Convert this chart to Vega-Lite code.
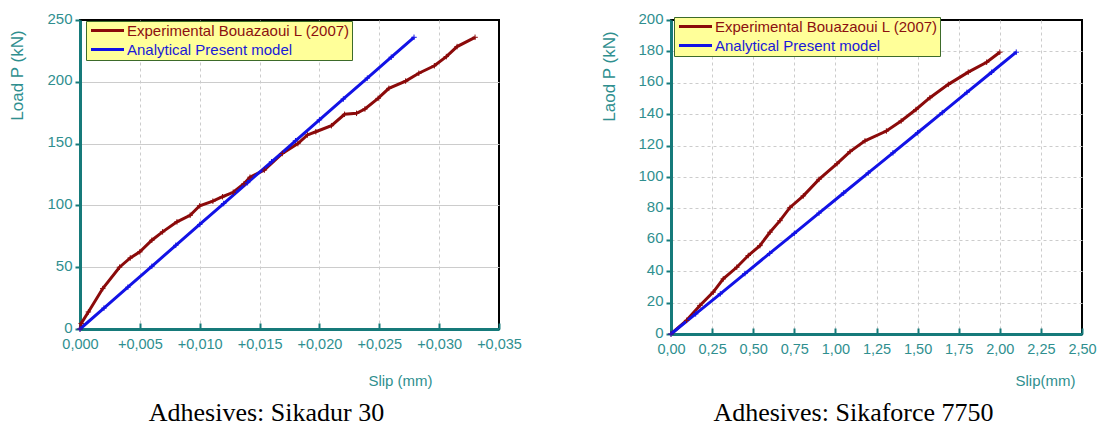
{
  "$schema": "https://vega.github.io/schema/vega-lite/v6.json",
  "padding": {"left": 7, "top": 10, "right": 4, "bottom": 4},
  "background": "white",
  "bounds": "flush",
  "spacing": 172,
  "datasets": {
    "sikadur": [
      {"slip": 0.0, "load": 0.0, "series": "Experimental Bouazaoui L (2007)"},
      {"slip": 0.0001, "load": 4.5, "series": "Experimental Bouazaoui L (2007)"},
      {"slip": 0.0007, "load": 13.8, "series": "Experimental Bouazaoui L (2007)"},
      {"slip": 0.0019, "load": 32.7, "series": "Experimental Bouazaoui L (2007)"},
      {"slip": 0.0033, "load": 50.0, "series": "Experimental Bouazaoui L (2007)"},
      {"slip": 0.0042, "load": 57.5, "series": "Experimental Bouazaoui L (2007)"},
      {"slip": 0.005, "load": 62.4, "series": "Experimental Bouazaoui L (2007)"},
      {"slip": 0.006, "load": 71.8, "series": "Experimental Bouazaoui L (2007)"},
      {"slip": 0.0069, "load": 78.6, "series": "Experimental Bouazaoui L (2007)"},
      {"slip": 0.0081, "load": 86.7, "series": "Experimental Bouazaoui L (2007)"},
      {"slip": 0.0092, "load": 92.0, "series": "Experimental Bouazaoui L (2007)"},
      {"slip": 0.0100, "load": 99.7, "series": "Experimental Bouazaoui L (2007)"},
      {"slip": 0.0111, "load": 103.4, "series": "Experimental Bouazaoui L (2007)"},
      {"slip": 0.0119, "load": 107.0, "series": "Experimental Bouazaoui L (2007)"},
      {"slip": 0.0128, "load": 110.6, "series": "Experimental Bouazaoui L (2007)"},
      {"slip": 0.0137, "load": 117.5, "series": "Experimental Bouazaoui L (2007)"},
      {"slip": 0.0142, "load": 122.8, "series": "Experimental Bouazaoui L (2007)"},
      {"slip": 0.0154, "load": 128.6, "series": "Experimental Bouazaoui L (2007)"},
      {"slip": 0.0169, "load": 142.0, "series": "Experimental Bouazaoui L (2007)"},
      {"slip": 0.0182, "load": 150.0, "series": "Experimental Bouazaoui L (2007)"},
      {"slip": 0.0190, "load": 157.0, "series": "Experimental Bouazaoui L (2007)"},
      {"slip": 0.0197, "load": 159.6, "series": "Experimental Bouazaoui L (2007)"},
      {"slip": 0.0210, "load": 164.5, "series": "Experimental Bouazaoui L (2007)"},
      {"slip": 0.0221, "load": 173.7, "series": "Experimental Bouazaoui L (2007)"},
      {"slip": 0.0231, "load": 174.5, "series": "Experimental Bouazaoui L (2007)"},
      {"slip": 0.0238, "load": 178.0, "series": "Experimental Bouazaoui L (2007)"},
      {"slip": 0.0249, "load": 186.6, "series": "Experimental Bouazaoui L (2007)"},
      {"slip": 0.0258, "load": 194.7, "series": "Experimental Bouazaoui L (2007)"},
      {"slip": 0.0272, "load": 200.6, "series": "Experimental Bouazaoui L (2007)"},
      {"slip": 0.0283, "load": 206.9, "series": "Experimental Bouazaoui L (2007)"},
      {"slip": 0.0296, "load": 213.0, "series": "Experimental Bouazaoui L (2007)"},
      {"slip": 0.0306, "load": 220.4, "series": "Experimental Bouazaoui L (2007)"},
      {"slip": 0.0315, "load": 228.5, "series": "Experimental Bouazaoui L (2007)"},
      {"slip": 0.0330, "load": 236.0, "series": "Experimental Bouazaoui L (2007)"},
      {"slip": 0.0, "load": 0.0, "series": "Analytical Present model"},
      {"slip": 0.002, "load": 16.9, "series": "Analytical Present model"},
      {"slip": 0.004, "load": 33.8, "series": "Analytical Present model"},
      {"slip": 0.006, "load": 50.7, "series": "Analytical Present model"},
      {"slip": 0.008, "load": 67.7, "series": "Analytical Present model"},
      {"slip": 0.010, "load": 84.6, "series": "Analytical Present model"},
      {"slip": 0.012, "load": 101.5, "series": "Analytical Present model"},
      {"slip": 0.014, "load": 118.4, "series": "Analytical Present model"},
      {"slip": 0.016, "load": 135.3, "series": "Analytical Present model"},
      {"slip": 0.018, "load": 152.3, "series": "Analytical Present model"},
      {"slip": 0.020, "load": 169.2, "series": "Analytical Present model"},
      {"slip": 0.022, "load": 186.1, "series": "Analytical Present model"},
      {"slip": 0.024, "load": 203.0, "series": "Analytical Present model"},
      {"slip": 0.026, "load": 219.9, "series": "Analytical Present model"},
      {"slip": 0.0279, "load": 236.0, "series": "Analytical Present model"}
    ],
    "sikaforce": [
      {"slip": 0.0, "load": 0.0, "series": "Experimental Bouazaoui L (2007)"},
      {"slip": 0.095, "load": 8.7, "series": "Experimental Bouazaoui L (2007)"},
      {"slip": 0.176, "load": 18.2, "series": "Experimental Bouazaoui L (2007)"},
      {"slip": 0.257, "load": 26.7, "series": "Experimental Bouazaoui L (2007)"},
      {"slip": 0.318, "load": 35.1, "series": "Experimental Bouazaoui L (2007)"},
      {"slip": 0.40, "load": 42.5, "series": "Experimental Bouazaoui L (2007)"},
      {"slip": 0.47, "load": 50.0, "series": "Experimental Bouazaoui L (2007)"},
      {"slip": 0.541, "load": 56.3, "series": "Experimental Bouazaoui L (2007)"},
      {"slip": 0.602, "load": 64.8, "series": "Experimental Bouazaoui L (2007)"},
      {"slip": 0.663, "load": 72.2, "series": "Experimental Bouazaoui L (2007)"},
      {"slip": 0.724, "load": 80.6, "series": "Experimental Bouazaoui L (2007)"},
      {"slip": 0.805, "load": 88.0, "series": "Experimental Bouazaoui L (2007)"},
      {"slip": 0.90, "load": 98.5, "series": "Experimental Bouazaoui L (2007)"},
      {"slip": 1.01, "load": 108.5, "series": "Experimental Bouazaoui L (2007)"},
      {"slip": 1.089, "load": 116.2, "series": "Experimental Bouazaoui L (2007)"},
      {"slip": 1.18, "load": 123.0, "series": "Experimental Bouazaoui L (2007)"},
      {"slip": 1.31, "load": 129.3, "series": "Experimental Bouazaoui L (2007)"},
      {"slip": 1.40, "load": 135.7, "series": "Experimental Bouazaoui L (2007)"},
      {"slip": 1.49, "load": 143.0, "series": "Experimental Bouazaoui L (2007)"},
      {"slip": 1.575, "load": 150.5, "series": "Experimental Bouazaoui L (2007)"},
      {"slip": 1.687, "load": 159.0, "series": "Experimental Bouazaoui L (2007)"},
      {"slip": 1.808, "load": 166.8, "series": "Experimental Bouazaoui L (2007)"},
      {"slip": 1.92, "load": 173.1, "series": "Experimental Bouazaoui L (2007)"},
      {"slip": 2.0, "load": 179.5, "series": "Experimental Bouazaoui L (2007)"},
      {"slip": 0.0, "load": 0.0, "series": "Analytical Present model"},
      {"slip": 0.15, "load": 12.8, "series": "Analytical Present model"},
      {"slip": 0.30, "load": 25.6, "series": "Analytical Present model"},
      {"slip": 0.45, "load": 38.5, "series": "Analytical Present model"},
      {"slip": 0.60, "load": 51.3, "series": "Analytical Present model"},
      {"slip": 0.75, "load": 64.1, "series": "Analytical Present model"},
      {"slip": 0.90, "load": 77.0, "series": "Analytical Present model"},
      {"slip": 1.05, "load": 89.8, "series": "Analytical Present model"},
      {"slip": 1.20, "load": 102.6, "series": "Analytical Present model"},
      {"slip": 1.35, "load": 115.4, "series": "Analytical Present model"},
      {"slip": 1.50, "load": 128.2, "series": "Analytical Present model"},
      {"slip": 1.65, "load": 141.0, "series": "Analytical Present model"},
      {"slip": 1.80, "load": 153.9, "series": "Analytical Present model"},
      {"slip": 1.95, "load": 166.7, "series": "Analytical Present model"},
      {"slip": 2.10, "load": 179.5, "series": "Analytical Present model"}
    ]
  },
  "hconcat": [
    {
      "width": 419,
      "height": 309,
      "data": {"name": "sikadur"},
      "title": {"text": "Adhesives: Sikadur 30", "orient": "bottom", "anchor": "middle", "dx": -23, "offset": 12},
      "mark": {"type": "line", "strokeWidth": 3, "point": {"shape": "M0,-1V1M-1,0H1", "filled": false, "size": 30, "strokeWidth": 1}},
      "encoding": {
        "x": {"field": "slip", "type": "quantitative", "sort": null,
          "scale": {"domain": [0, 0.035], "nice": false},
          "axis": {"title": "Slip (mm)", "values": [0, 0.005, 0.01, 0.015, 0.02, 0.025, 0.03, 0.035],
            "labelExpr": "datum.value == 0 ? '0,000' : '+' + replace(format(datum.value, '.3f'), '.', ',')",
            "gridDash": [3, 3], "gridOpacity": {"condition": {"test": "datum.value >= 0.035 || datum.value <= 0", "value": 0}, "value": 1},
            "titleX": 320, "titleY": 51}},
        "y": {"field": "load", "type": "quantitative",
          "scale": {"domain": [0, 250], "nice": false},
          "axis": {"title": "Load P (kN)", "values": [0, 50, 100, 150, 200, 250], "gridDash": [],
            "gridOpacity": {"condition": {"test": "datum.value >= 250 || datum.value <= 0", "value": 0}, "value": 1},
            "titleX": -63, "titleY": 55}},
        "color": {"field": "series", "type": "nominal",
          "scale": {"domain": ["Experimental Bouazaoui L (2007)", "Analytical Present model"], "range": ["#8b0a0a", "#1212e6"]},
          "legend": {"orient": "none", "legendX": 6, "legendY": 1,
            "encode": {"labels": {"update": {"fill": {"signal": "datum.label == 'Analytical Present model' ? '#1a1ad8' : '#8b1010'"}}}}}},
        "order": {"field": "slip"}
      }
    },
    {
      "width": 411,
      "height": 314,
      "data": {"name": "sikaforce"},
      "title": {"text": "Adhesives: Sikaforce 7750", "orient": "bottom", "anchor": "middle", "dx": -23, "offset": 12},
      "mark": {"type": "line", "strokeWidth": 3, "point": {"shape": "M0,-1V1M-1,0H1", "filled": false, "size": 30, "strokeWidth": 1}},
      "encoding": {
        "x": {"field": "slip", "type": "quantitative", "sort": null,
          "scale": {"domain": [0, 2.5], "nice": false},
          "axis": {"title": "Slip(mm)", "values": [0, 0.25, 0.5, 0.75, 1, 1.25, 1.5, 1.75, 2, 2.25, 2.5],
            "labelExpr": "replace(format(datum.value, '.2f'), '.', ',')",
            "gridDash": [3, 3], "gridOpacity": {"condition": {"test": "datum.value >= 2.5 || datum.value <= 0", "value": 0}, "value": 1},
            "titleX": 374, "titleY": 46}},
        "y": {"field": "load", "type": "quantitative",
          "scale": {"domain": [0, 200], "nice": false},
          "axis": {"title": "Laod P (kN)", "values": [0, 20, 40, 60, 80, 100, 120, 140, 160, 180, 200], "gridDash": [3, 3],
            "gridOpacity": {"condition": {"test": "datum.value >= 200 || datum.value <= 0", "value": 0}, "value": 1},
            "titleX": -62, "titleY": 56}},
        "color": {"field": "series", "type": "nominal",
          "scale": {"domain": ["Experimental Bouazaoui L (2007)", "Analytical Present model"], "range": ["#8b0a0a", "#1212e6"]},
          "legend": {"orient": "none", "legendX": 3, "legendY": -3,
            "encode": {"labels": {"update": {"fill": {"signal": "datum.label == 'Analytical Present model' ? '#1a1ad8' : '#8b1010'"}}}}}},
        "order": {"field": "slip"}
      }
    }
  ],
  "resolve": {"scale": {"color": "independent", "x": "independent", "y": "independent"}},
  "config": {
    "font": "Liberation Sans",
    "view": {"stroke": "black", "strokeWidth": 2},
    "title": {"font": "Liberation Serif", "fontSize": 26, "fontWeight": "normal", "color": "black"},
    "axis": {
      "labelFont": "Liberation Sans", "labelFontSize": 14.5, "labelColor": "#2f8f8f",
      "titleFont": "Liberation Sans", "titleFontSize": 15, "titleFontWeight": "normal", "titleColor": "#2f8f8f",
      "titleAlign": "center", "titleBaseline": "middle",
      "domainColor": "#167a7a", "domainWidth": 3,
      "tickColor": "#167a7a", "tickWidth": 2,
      "gridColor": "#cccccc", "gridWidth": 1
    },
    "axisX": {"tickSize": -6, "labelPadding": 14, "labelFlush": false},
    "axisY": {"tickSize": 5, "labelPadding": 3, "labelOffset": -2, "titleAngle": -90, "titleFontSize": 17, "labelFontSize": 15},
    "legend": {
      "title": null,
      "fillColor": "#ffff99", "strokeColor": "#3d6b2a", "strokeWidth": 1,
      "padding": 2, "rowPadding": 3, "cornerRadius": 0,
      "labelFont": "Liberation Sans", "labelFontSize": 15, "labelOffset": 12,
      "symbolType": "M-3.3,0H3.3", "symbolSize": 100, "symbolStrokeWidth": 3, "symbolOffset": 12,
      "labelLimit": 400
    }
  }
}
